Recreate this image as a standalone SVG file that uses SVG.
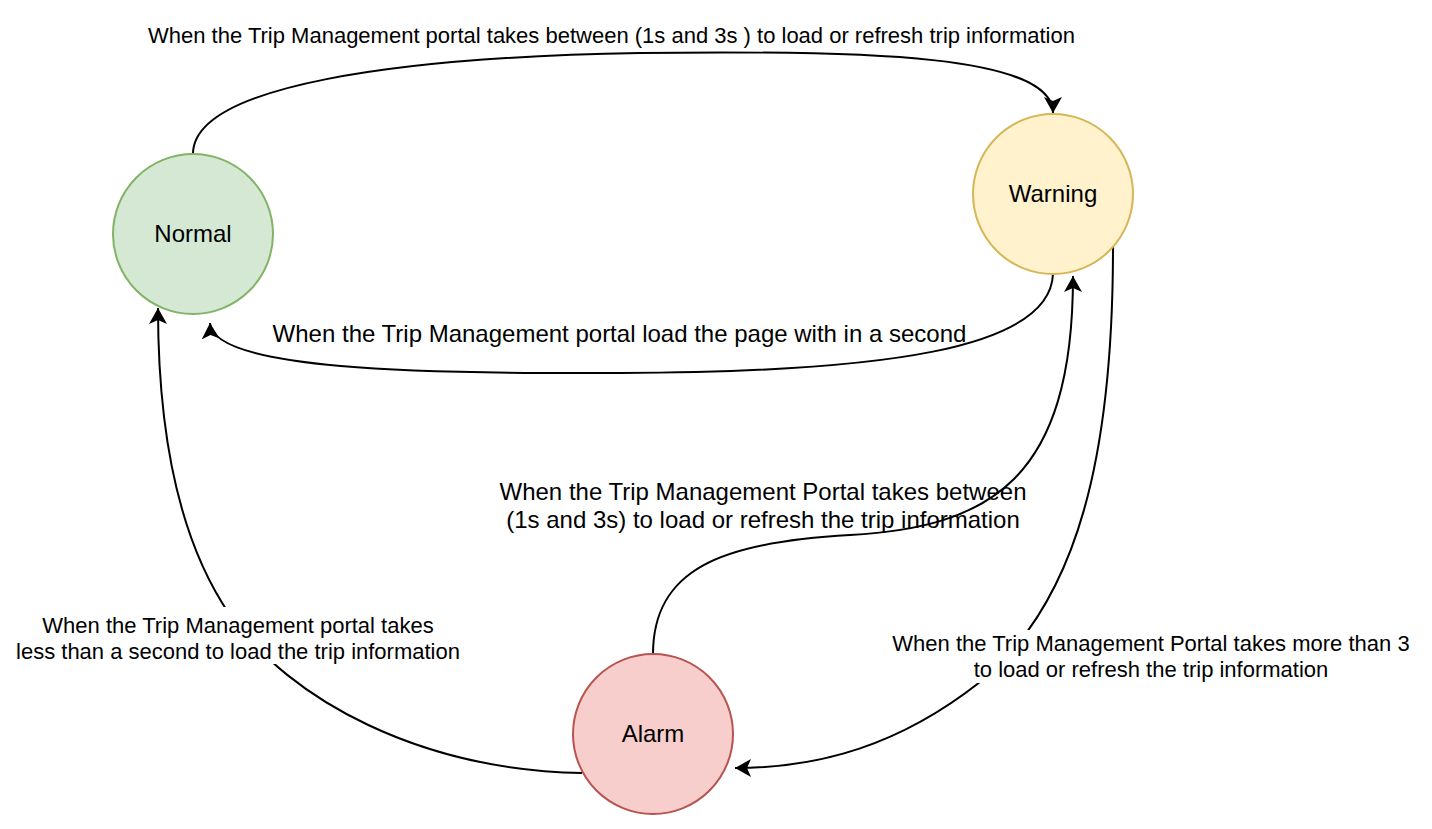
<svg xmlns="http://www.w3.org/2000/svg" width="1432" height="829" viewBox="0 0 1432 829">
  <style>
    .edge { fill: none; stroke: #000000; stroke-width: 2; marker-end: url(#arrow); }
    .lbl { font-family: "Liberation Sans", Arial, Helvetica, sans-serif; fill: #000000; text-anchor: middle; }
    .s22 { font-size: 22px; }
    .s24 { font-size: 24px; }
    .node { stroke-width: 2; }
    .bg { fill: #ffffff; stroke: none; }
  </style>
  <defs>
    <marker id="arrow" markerUnits="userSpaceOnUse" viewBox="0 0 16 18" markerWidth="16" markerHeight="18" refX="16" refY="9" orient="auto">
      <path d="M16,9 L0,0 L4,9 L0,18 Z" fill="#000000"/>
    </marker>
  </defs>
  <rect x="0" y="0" width="1432" height="829" fill="#ffffff"/>

  <g id="connectors">
    <path id="e-normal-warning" class="edge" d="M193,154 C193,85 400,57 640,53 C870,50 1053,55 1053,113"/>
    <path id="e-warning-normal" class="edge" d="M1053,274 C1050,350 880,372 620,373 C420,374 212,370 210,323"/>
    <path id="e-alarm-warning" class="edge" d="M653,654 C653,570 720,542 850,535 C990,527 1073,480 1073,276"/>
    <path id="e-warning-alarm" class="edge" d="M1113,247 C1113,450 1080,600 980,682 C900,745 820,768 735,768"/>
    <path id="e-alarm-normal" class="edge" d="M582,773 C420,770 290,700 230,615 C175,535 158,420 158,308"/>
  </g>

  <g id="edge-labels">
    <g id="lbl-normal-warning">
      <text class="lbl s22" x="611.5" y="43">When the Trip Management portal takes between (1s and 3s ) to load or refresh trip information</text>
    </g>
    <g id="lbl-warning-normal">
      <text class="lbl s24" x="619.5" y="342">When the Trip Management portal load the page with in a second</text>
    </g>
    <g id="lbl-alarm-warning">
      <text class="lbl s24" x="763" y="500">When the Trip Management Portal takes between</text>
      <text class="lbl s24" x="763" y="528">(1s and 3s) to load or refresh the trip information</text>
    </g>
    <g id="lbl-warning-alarm">
      <rect class="bg" x="890" y="630" width="522" height="53"/>
      <text class="lbl s22" x="1151" y="651">When the Trip Management Portal takes more than 3</text>
      <text class="lbl s22" x="1151" y="677">to load or refresh the trip information</text>
    </g>
    <g id="lbl-alarm-normal">
      <rect class="bg" x="14" y="607" width="449" height="57"/>
      <text class="lbl s22" x="238" y="633">When the Trip Management portal takes</text>
      <text class="lbl s22" x="238" y="659">less than a second to load the trip information</text>
    </g>
  </g>

  <g id="node-normal">
    <circle class="node" cx="193" cy="234" r="80" fill="#d5e8d4" stroke="#82b366"/>
    <text class="lbl s24" x="193" y="242">Normal</text>
  </g>
  <g id="node-warning">
    <circle class="node" cx="1053" cy="194" r="80" fill="#fff2cc" stroke="#d6b656"/>
    <text class="lbl s24" x="1053" y="202">Warning</text>
  </g>
  <g id="node-alarm">
    <circle class="node" cx="653" cy="734" r="80" fill="#f8cecc" stroke="#b85450"/>
    <text class="lbl s24" x="653" y="742">Alarm</text>
  </g>
</svg>
